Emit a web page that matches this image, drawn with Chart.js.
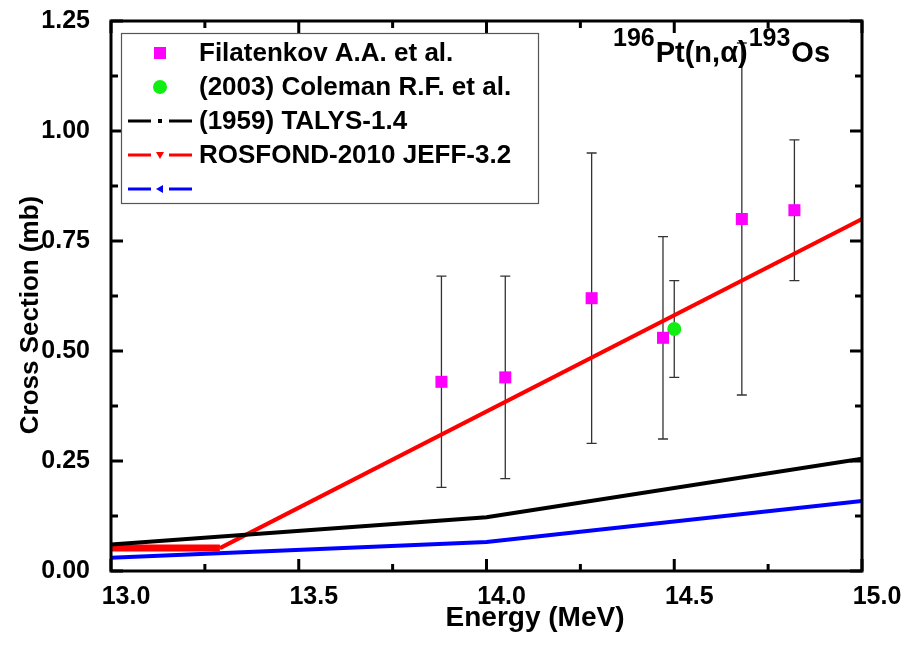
<!DOCTYPE html>
<html>
<head>
<meta charset="utf-8">
<script src="https://cdn.jsdelivr.net/npm/chart.js@4.4.0/dist/chart.umd.min.js"></script>
<style>
  html, body { margin: 0; padding: 0; background: #fff; }
</style>
</head>
<body>
<canvas id="grafico" width="908" height="646"></canvas>
<script>
  // Filatenkov A.A. et al. (pontos com barras de erro)
  const energiaFil = [13.88, 14.05, 14.28, 14.47, 14.68, 14.82];
  const secaoFil = [0.43, 0.44, 0.62, 0.53, 0.80, 0.82];
  const baixoFil = [0.19, 0.21, 0.29, 0.30, 0.40, 0.66];
  const altoFil = [0.67, 0.67, 0.95, 0.76, 1.20, 0.98];

  // Coleman R.F. et al.
  const energiaCol = [14.50];
  const secaoCol = [0.55];
  const baixoCol = [0.44];
  const altoCol = [0.66];

  // curvas avaliadas
  const energiaTalys = [13.0, 14.0, 15.0];
  const secaoTalys = [0.06, 0.122, 0.255];
  const energiaRosfond = [13.0, 13.29, 15.0];
  const secaoRosfond = [0.052, 0.052, 0.80];
  const energiaAzul = [13.0, 14.0, 15.0];
  const secaoAzul = [0.03, 0.066, 0.159];

  const ticksX = [13.0, 13.5, 14.0, 14.5, 15.0];
  const ticksY = [0.00, 0.25, 0.50, 0.75, 1.00, 1.25];
  const legendas = ["Filatenkov A.A. et al.", "(2003) Coleman R.F. et al.", "(1959) TALYS-1.4", "ROSFOND-2010 JEFF-3.2", ""];

  const fonte = '"Liberation Sans", Arial, sans-serif';
  const pares = (xs, ys) => xs.map((v, i) => ({ x: v, y: ys[i] }));

  const extras = {
    id: 'extras',
    beforeDatasetsDraw(chart) {
      const { ctx, scales: { x, y } } = chart;
      ctx.save();
      ctx.strokeStyle = '#333';
      ctx.lineWidth = 1.3;
      [[energiaFil, baixoFil, altoFil], [energiaCol, baixoCol, altoCol]].forEach(([ex, lo, hi]) => {
        ex.forEach((e, i) => {
          const px = x.getPixelForValue(e);
          const p1 = y.getPixelForValue(lo[i]);
          const p2 = y.getPixelForValue(hi[i]);
          ctx.beginPath();
          ctx.moveTo(px, p1); ctx.lineTo(px, p2);
          ctx.moveTo(px - 5, p1); ctx.lineTo(px + 5, p1);
          ctx.moveTo(px - 5, p2); ctx.lineTo(px + 5, p2);
          ctx.stroke();
        });
      });
      ctx.restore();
    },
    afterDraw(chart) {
      const { ctx, chartArea: a, scales: { x, y } } = chart;
      ctx.save();

      // moldura e marcas internas
      ctx.strokeStyle = '#000';
      ctx.lineWidth = 3;
      ctx.strokeRect(a.left, a.top, a.right - a.left, a.bottom - a.top);
      ctx.beginPath();
      for (let v = 13.0; v <= 15.0001; v += 0.25) {
        const px = x.getPixelForValue(v);
        const len = Math.abs(v * 2 - Math.round(v * 2)) < 0.01 ? 12 : 7;
        ctx.moveTo(px, a.bottom); ctx.lineTo(px, a.bottom - len);
        ctx.moveTo(px, a.top); ctx.lineTo(px, a.top + len);
      }
      for (let v = 0; v <= 1.2501; v += 0.125) {
        const py = y.getPixelForValue(v);
        const len = Math.abs(v * 4 - Math.round(v * 4)) < 0.01 ? 12 : 7;
        ctx.moveTo(a.left, py); ctx.lineTo(a.left + len, py);
        ctx.moveTo(a.right, py); ctx.lineTo(a.right - len, py);
      }
      ctx.stroke();

      // títulos dos eixos
      ctx.fillStyle = '#000';
      ctx.font = 'bold 28px ' + fonte;
      ctx.textAlign = 'center';
      ctx.textBaseline = 'alphabetic';
      ctx.fillText('Energy (MeV)', 535, 626);
      ctx.save();
      ctx.translate(31, 315);
      ctx.rotate(-Math.PI / 2);
      ctx.textBaseline = 'middle';
      ctx.font = 'bold 26px ' + fonte;
      ctx.fillText('Cross Section (mb)', 0, 0);
      ctx.restore();

      // reação
      ctx.textAlign = 'left';
      let tx = 613;
      const partes = [['196', 25, 46], ['Pt(n,\u03b1)', 29, 62], ['193', 25, 46], ['Os', 29, 62]];
      partes.forEach(([t, tam, base]) => {
        ctx.font = 'bold ' + tam + 'px ' + fonte;
        ctx.fillText(t, tx, base);
        tx += ctx.measureText(t).width + 1;
      });

      // legenda
      const lx = a.left + 10, ly = a.top + 12, lw = 417, lh = 170;
      ctx.fillStyle = '#fff';
      ctx.fillRect(lx, ly, lw, lh);
      ctx.strokeStyle = '#555';
      ctx.lineWidth = 1.2;
      ctx.strokeRect(lx + 0.5, ly + 0.5, lw, lh);
      const cx = lx + 39;
      const linhas = [null, null, '#000', '#f00', '#00f'];
      legendas.forEach((txt, i) => {
        const ry = ly + 20 + i * 34;
        if (i === 0) {
          ctx.fillStyle = '#ff00ff';
          ctx.fillRect(cx - 6, ry - 6, 12, 12);
        } else if (i === 1) {
          ctx.fillStyle = '#11ee11';
          ctx.beginPath(); ctx.arc(cx, ry, 7, 0, Math.PI * 2); ctx.fill();
        } else {
          ctx.strokeStyle = linhas[i];
          ctx.fillStyle = linhas[i];
          ctx.lineWidth = 3;
          ctx.beginPath();
          ctx.moveTo(cx - 32, ry); ctx.lineTo(cx - 9, ry);
          ctx.moveTo(cx + 9, ry); ctx.lineTo(cx + 32, ry);
          ctx.stroke();
          ctx.beginPath();
          if (i === 2) {
            ctx.rect(cx - 2, ry - 2, 4, 4);
          } else if (i === 3) {
            ctx.moveTo(cx - 4, ry - 3); ctx.lineTo(cx + 4, ry - 3); ctx.lineTo(cx, ry + 4);
          } else {
            ctx.moveTo(cx - 4, ry); ctx.lineTo(cx + 3, ry - 4); ctx.lineTo(cx + 3, ry + 4);
          }
          ctx.fill();
        }
        ctx.fillStyle = '#000';
        ctx.font = 'bold 26px ' + fonte;
        ctx.textBaseline = 'middle';
        ctx.fillText(txt, lx + 78, ry + 1);
      });
      ctx.restore();
    }
  };

  new Chart(document.getElementById('grafico'), {
    type: 'scatter',
    data: {
      datasets: [
        {
          label: legendas[0],
          data: pares(energiaFil, secaoFil),
          pointStyle: 'rect',
          pointRadius: 8.5,
          pointHoverRadius: 8.5,
          backgroundColor: '#ff00ff',
          borderWidth: 0
        },
        {
          label: legendas[1],
          data: pares(energiaCol, secaoCol),
          pointStyle: 'circle',
          pointRadius: 7,
          backgroundColor: '#11ee11',
          borderWidth: 0
        },
        {
          label: legendas[2],
          data: pares(energiaTalys, secaoTalys),
          showLine: true,
          pointRadius: 0,
          borderColor: '#000',
          borderWidth: 4
        },
        {
          label: legendas[3],
          data: pares(energiaRosfond, secaoRosfond),
          showLine: true,
          pointRadius: 0,
          borderColor: '#ff0000',
          borderWidth: 4,
          segment: { borderWidth: c => c.p0DataIndex === 0 ? 7 : 4 }
        },
        {
          label: legendas[4],
          data: pares(energiaAzul, secaoAzul),
          showLine: true,
          pointRadius: 0,
          borderColor: '#0000ff',
          borderWidth: 4
        }
      ]
    },
    options: {
      responsive: false,
      animation: false,
      layout: { padding: { top: 21, right: 46, left: 0, bottom: 0 } },
      plugins: { legend: { display: false }, tooltip: { enabled: false } },
      scales: {
        x: {
          type: 'linear',
          min: 13.0,
          max: 15.0,
          afterBuildTicks: s => { s.ticks = ticksX.map(v => ({ value: v })); },
          afterFit: s => { s.height = 75; s.paddingLeft = 0; s.paddingRight = 0; },
          grid: { display: false },
          border: { display: false },
          ticks: {
            padding: 3,
            labelOffset: 15,
            color: '#000',
            font: { family: fonte, size: 25, weight: 'bold' },
            callback: v => v.toFixed(1)
          }
        },
        y: {
          type: 'linear',
          min: 0,
          max: 1.25,
          afterBuildTicks: s => { s.ticks = ticksY.map(v => ({ value: v })); },
          afterFit: s => { s.width = 111; s.paddingTop = 0; s.paddingBottom = 0; },
          grid: { display: false },
          border: { display: false },
          ticks: {
            padding: 13,
            color: '#000',
            font: { family: fonte, size: 25, weight: 'bold' },
            callback: v => v.toFixed(2)
          }
        }
      }
    },
    plugins: [extras]
  });
</script>
</body>
</html>
